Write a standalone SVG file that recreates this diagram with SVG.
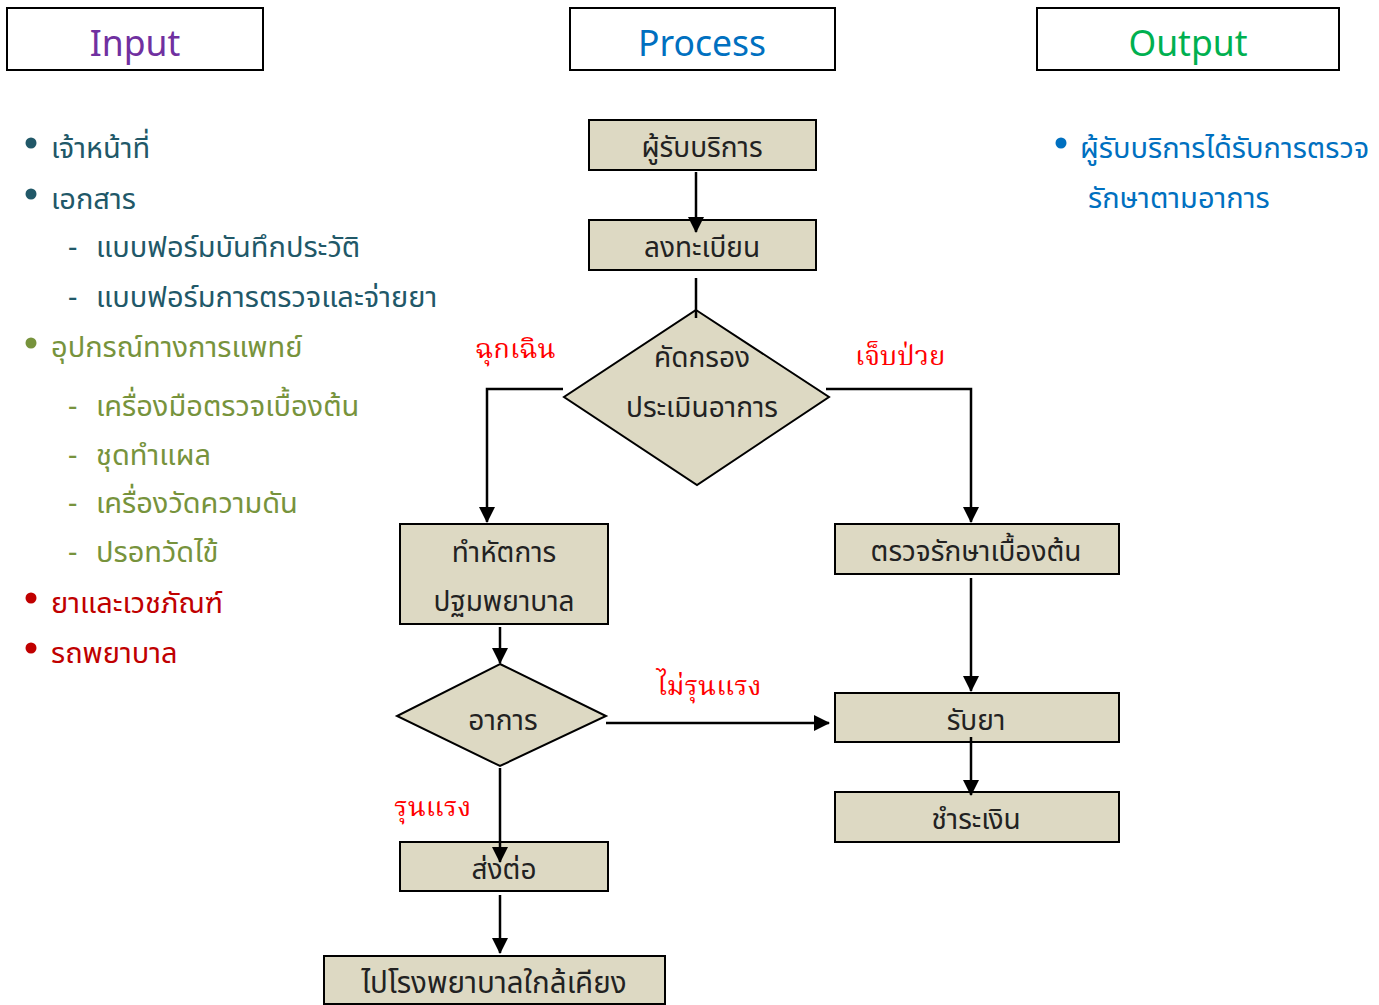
<svg xmlns="http://www.w3.org/2000/svg" width="1379" height="1005" viewBox="0 0 1379 1005">
<style>
.hdr{fill:#fff;stroke:#000;stroke-width:2}
.ht{font-family:"Noto Sans","Open Sans",sans-serif;font-size:35.5px;text-anchor:middle}
.nd{fill:#DDD9C3;stroke:#000;stroke-width:2}
.nt{font-family:"Noto Sans Thai","Noto Sans","DejaVu Sans",sans-serif;font-size:28px;fill:#222;text-anchor:middle}
.li{font-family:"Noto Sans Thai","Noto Sans","DejaVu Sans",sans-serif;font-size:29px}
.lb{font-family:"Noto Serif Thai","Liberation Serif","DejaVu Serif",serif;font-size:27.5px;fill:#FF0000}
.c{fill:none;stroke:#000;stroke-width:2.5}
.teal{fill:#215868}.grn{fill:#77933C}.red{fill:#C00000}.blu{fill:#0070C0}
</style>
<defs>
<marker id="ah" markerUnits="userSpaceOnUse" markerWidth="16" markerHeight="18" refX="15" refY="8" orient="auto">
<path d="M0,0 L16,8 L0,16 Z" fill="#000"/>
</marker>
</defs>
<rect width="1379" height="1005" fill="#fff"/>

<g id="hdr-input"><rect class="hdr" x="7" y="8" width="256" height="62"/><text class="ht" x="135" y="56" fill="#7030A0">Input</text></g>
<g id="hdr-process"><rect class="hdr" x="570" y="8" width="265" height="62"/><text class="ht" x="702" y="56" fill="#0070C0">Process</text></g>
<g id="hdr-output"><rect class="hdr" x="1037" y="8" width="302" height="62"/><text class="ht" x="1188" y="56" fill="#00B050">Output</text></g>

<g id="input-list" class="li">
<circle cx="31" cy="143" r="5.5" class="teal"/><text x="51" y="158" class="teal">เจ้าหน้าที่</text>
<circle cx="31" cy="194" r="5.5" class="teal"/><text x="51" y="209" class="teal">เอกสาร</text>
<text x="68" y="257" class="teal">-</text><text x="96" y="257" class="teal">แบบฟอร์มบันทึกประวัติ</text>
<text x="68" y="307" class="teal">-</text><text x="96" y="307" class="teal">แบบฟอร์มการตรวจและจ่ายยา</text>
<circle cx="31" cy="343" r="5.5" class="grn"/><text x="51" y="357" class="grn">อุปกรณ์ทางการแพทย์</text>
<text x="68" y="416" class="grn">-</text><text x="96" y="416" class="grn">เครื่องมือตรวจเบื้องต้น</text>
<text x="68" y="465" class="grn">-</text><text x="96" y="465" class="grn">ชุดทำแผล</text>
<text x="68" y="513" class="grn">-</text><text x="96" y="513" class="grn">เครื่องวัดความดัน</text>
<text x="68" y="562" class="grn">-</text><text x="96" y="562" class="grn">ปรอทวัดไข้</text>
<circle cx="31" cy="598" r="5.5" class="red"/><text x="51" y="613" class="red">ยาและเวชภัณฑ์</text>
<circle cx="31" cy="648" r="5.5" class="red"/><text x="51" y="663" class="red">รถพยาบาล</text>
</g>

<g id="output-list" class="li">
<circle cx="1061" cy="143" r="5.5" class="blu"/><text x="1080" y="158" class="blu">ผู้รับบริการได้รับการตรวจ</text>
<text x="1088" y="208" class="blu">รักษาตามอาการ</text>
</g>

<g id="n-client"><rect class="nd" x="589" y="120" width="227" height="50"/><text class="nt" x="702" y="157">ผู้รับบริการ</text></g>
<g id="n-register"><rect class="nd" x="589" y="220" width="227" height="50"/><text class="nt" x="702" y="257">ลงทะเบียน</text></g>
<g id="n-triage"><polygon class="nd" points="696,310 829,397 697,485 564,397"/><text class="nt" x="702" y="367">คัดกรอง</text><text class="nt" x="702" y="417">ประเมินอาการ</text></g>
<g id="n-firstaid"><rect class="nd" x="400" y="524" width="208" height="100"/><text class="nt" x="504" y="562">ทำหัตการ</text><text class="nt" x="504" y="611">ปฐมพยาบาล</text></g>
<g id="n-exam"><rect class="nd" x="835" y="524" width="284" height="50"/><text class="nt" x="976" y="561">ตรวจรักษาเบื้องต้น</text></g>
<g id="n-symptom"><polygon class="nd" points="500,664 606,716 500,766 397,716"/><text class="nt" x="503" y="730">อาการ</text></g>
<g id="n-medicine"><rect class="nd" x="835" y="693" width="284" height="49"/><text class="nt" x="976" y="730">รับยา</text></g>
<g id="n-pay"><rect class="nd" x="835" y="792" width="284" height="50"/><text class="nt" x="976" y="829">ชำระเงิน</text></g>
<g id="n-refer"><rect class="nd" x="400" y="842" width="208" height="49"/><text class="nt" x="504" y="879">ส่งต่อ</text></g>
<g id="n-hospital"><rect class="nd" x="324" y="956" width="341" height="48"/><text class="nt" x="494" y="993" style="font-size:29.5px">ไปโรงพยาบาลใกล้เคียง</text></g>

<g id="connectors">
<path class="c" d="M696,172 V232" marker-end="url(#ah)"/>
<path class="c" d="M696,278 V318"/>
<path class="c" d="M563,389 H487 V522" marker-end="url(#ah)"/>
<path class="c" d="M826,389 H971 V522" marker-end="url(#ah)"/>
<path class="c" d="M500,627 V663" marker-end="url(#ah)"/>
<path class="c" d="M606,723 H829" marker-end="url(#ah)"/>
<path class="c" d="M971,578 V691" marker-end="url(#ah)"/>
<path class="c" d="M971,737 V795" marker-end="url(#ah)"/>
<path class="c" d="M500,768 V862" marker-end="url(#ah)"/>
<path class="c" d="M500,895 V953" marker-end="url(#ah)"/>
</g>

<g id="labels">
<text class="lb" x="475" y="358">ฉุกเฉิน</text>
<text class="lb" x="855" y="365">เจ็บป่วย</text>
<text class="lb" x="657" y="695">ไม่รุนแรง</text>
<text class="lb" x="394" y="816">รุนแรง</text>
</g>
</svg>
